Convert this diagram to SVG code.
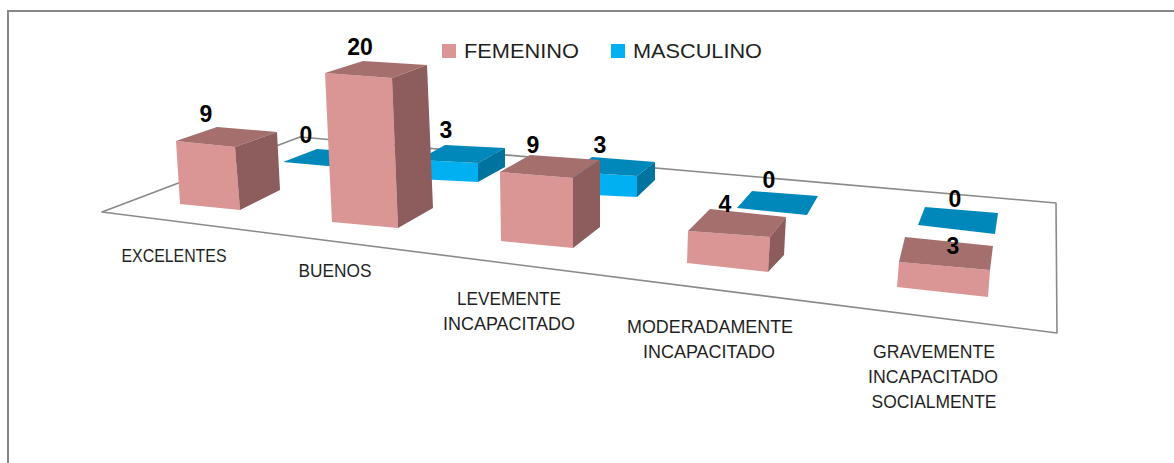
<svg xmlns="http://www.w3.org/2000/svg" width="1174" height="463" viewBox="0 0 1174 463">
<style>
.frame{fill:#fff;stroke:#878787;stroke-width:2}
.floor{fill:none;stroke:#8a8a8a;stroke-width:1.6;stroke-linejoin:round}
.pf{fill:#D99694}.pt{fill:#A46F6D}.ps{fill:#8C5D5C}
.bf{fill:#00B0F0}.bt{fill:#0088BA}.bs{fill:#00739E}
.val{font-family:"Liberation Sans",Arial,sans-serif;font-weight:bold;font-size:23px;fill:#000;text-anchor:middle}
.cat{font-family:"Liberation Sans",Arial,sans-serif;font-size:18px;fill:#1f1f1f;text-anchor:middle}
.leg{font-family:"Liberation Sans",Arial,sans-serif;font-size:20px;fill:#1f1f1f}
</style>
<rect class="frame" x="8" y="11" width="1200" height="480"/>
<g id="floor">
<polygon class="floor" points="102,212 300,137 1056,203 1057,333"/>
</g>
<g id="legend">
<rect class="pf" x="442" y="44" width="14" height="14"/>
<text class="leg" x="464" y="58" textLength="115" lengthAdjust="spacingAndGlyphs">FEMENINO</text>
<rect class="bf" x="611" y="44" width="14" height="14"/>
<text class="leg" x="633" y="58" textLength="129" lengthAdjust="spacingAndGlyphs">MASCULINO</text>
</g>
<g id="connectors"></g>
<g id="masc-excelentes">
<polygon class="bt" points="283,162 317,149 385,154 350,168"/>
</g>
<g id="masc-buenos">
<polygon class="bf" points="418,160 478,163 478,182 418,179"/>
<polygon class="bt" points="418,160 445,145 505,148 478,163"/>
<polygon class="bs" points="478,163 505,148 505,167 478,182"/>
</g>
<g id="masc-levemente">
<polygon class="bf" points="572,172 637,176 637,197 572,194"/>
<polygon class="bt" points="572,172 592,157 655,162 637,176"/>
<polygon class="bs" points="637,176 655,162 655,180 637,197"/>
</g>
<g id="masc-moderadamente">
<polygon class="bt" points="737,208 752,191 818,196 807,215"/>
</g>
<g id="masc-gravemente">
<polygon class="bt" points="918,225 925,207 998,213 995,234"/>
</g>
<g id="fem-excelentes">
<polygon class="pf" points="176,141 235,147 240,210 180,204"/>
<polygon class="pt" points="176,141 217,127 277,132 235,147"/>
<polygon class="ps" points="235,147 277,132 280,190 240,210"/>
</g>
<g id="fem-buenos">
<polygon class="pf" points="325,73 392,78 398,228 332,222"/>
<polygon class="pt" points="325,73 363,61 427,65 392,78"/>
<polygon class="ps" points="392,78 427,65 433,208 398,228"/>
</g>
<g id="fem-levemente">
<polygon class="pf" points="500,172 573,178 573,248 501,241"/>
<polygon class="pt" points="500,172 530,155 600,160 573,178"/>
<polygon class="ps" points="573,178 600,160 600,227 573,248"/>
</g>
<g id="fem-moderadamente">
<polygon class="pf" points="688,231 770,237 768,272 687,263"/>
<polygon class="pt" points="688,231 710,209 786,217 770,237"/>
<polygon class="ps" points="770,237 786,217 784,255 768,272"/>
</g>
<g id="fem-gravemente">
<polygon class="pf" points="899,262 990,270 988,297 897,287"/>
<polygon class="pt" points="899,262 905,237 993,246 990,270"/>
</g>
<g id="values">
<text class="val" x="206" y="122">9</text>
<text class="val" x="306" y="143">0</text>
<text class="val" x="360" y="55">20</text>
<text class="val" x="446" y="138">3</text>
<text class="val" x="533" y="153">9</text>
<text class="val" x="600" y="153">3</text>
<text class="val" x="769" y="188">0</text>
<text class="val" x="725" y="212">4</text>
<text class="val" x="955" y="207">0</text>
<text class="val" x="953" y="254">3</text>
</g>
<g id="categories">
<text class="cat" x="174" y="262" textLength="105" lengthAdjust="spacingAndGlyphs">EXCELENTES</text>
<text class="cat" x="335" y="277" textLength="73" lengthAdjust="spacingAndGlyphs">BUENOS</text>
<text class="cat" x="509" y="305" textLength="104" lengthAdjust="spacingAndGlyphs">LEVEMENTE</text>
<text class="cat" x="509" y="330" textLength="132" lengthAdjust="spacingAndGlyphs">INCAPACITADO</text>
<text class="cat" x="710" y="333" textLength="166" lengthAdjust="spacingAndGlyphs">MODERADAMENTE</text>
<text class="cat" x="709" y="358" textLength="132" lengthAdjust="spacingAndGlyphs">INCAPACITADO</text>
<text class="cat" x="934" y="358" textLength="122" lengthAdjust="spacingAndGlyphs">GRAVEMENTE</text>
<text class="cat" x="933" y="383" textLength="130" lengthAdjust="spacingAndGlyphs">INCAPACITADO</text>
<text class="cat" x="934" y="408" textLength="125" lengthAdjust="spacingAndGlyphs">SOCIALMENTE</text>
</g>
</svg>
